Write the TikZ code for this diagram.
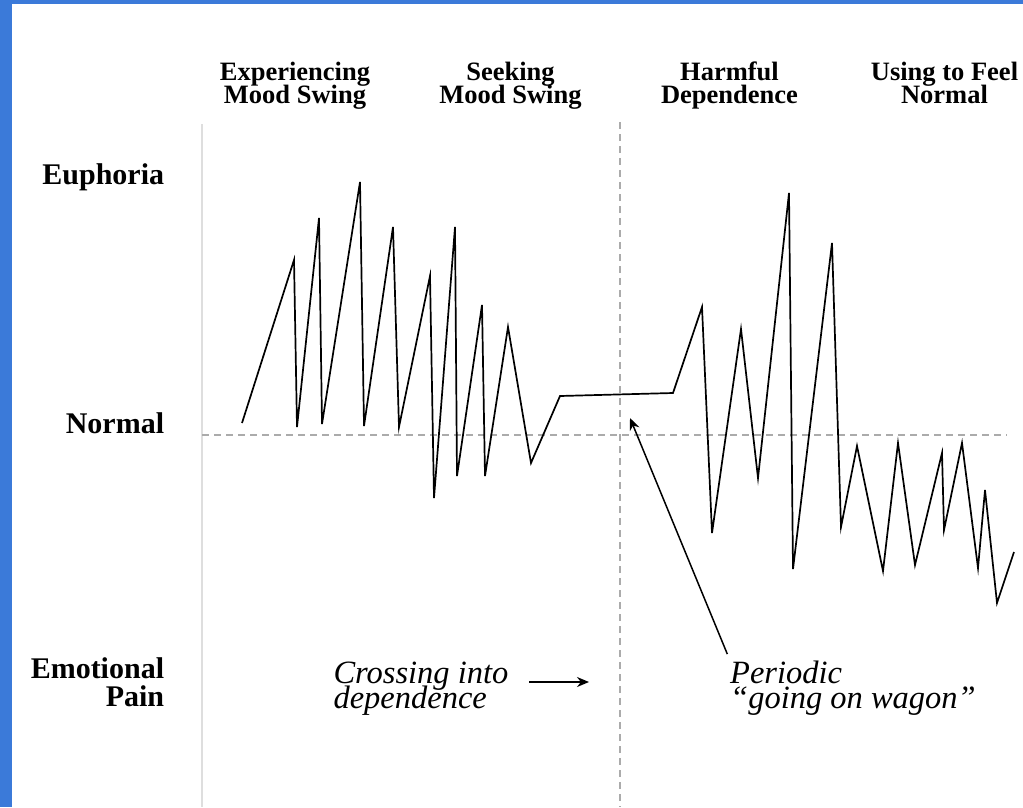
\documentclass[tikz,border=0pt]{standalone}
\usepackage{fontspec}
\setmainfont{Liberation Serif}
\usetikzlibrary{arrows.meta}
\definecolor{frameblue}{HTML}{3B7AD9}
\definecolor{guidegray}{HTML}{ABABAB}
\definecolor{axisgray}{HTML}{DEDEDE}
\newcommand{\tightskip}{\lineskiplimit=-50pt\relax}

\begin{document}
\begin{tikzpicture}[x=1pt, y=-1pt,
    phase/.style={font={\fontsize{26.5}{22.6}\selectfont\bfseries\tightskip},
                  align=center, inner sep=0pt, anchor=base},
    level/.style={font=\fontsize{30}{27.7}\selectfont\bfseries, align=right,
                  inner sep=0pt, anchor=base east},
    remark/.style={font={\fontsize{32.5}{25}\selectfont\itshape\tightskip},
                   align=left, inner sep=0pt, anchor=base west},
    guide/.style={guidegray, line width=2.2pt, dash pattern=on 7pt off 5pt},
    pointer/.style={line width=1.5pt, -{Stealth[length=12pt, width=10pt]}}]
  \useasboundingbox (0,0) rectangle (1023,807);
  \fill[frameblue] (0,0) rectangle (12,807);
  \fill[frameblue] (0,0) rectangle (1023,4);

  % axes and guides
  \draw[axisgray, line width=1.5pt] (202,124) -- (202,807);
  \draw[guide] (620,122) -- (620,807);
  \draw[guide] (202,435) -- (1007,435);

  % phases (anchored on the second line)
  \node[phase] (experiencing) at (295, 103.3) {Experiencing\\Mood Swing};
  \node[phase] (seeking) at (510.5, 103.3) {Seeking\\Mood Swing};
  \node[phase] (harmful) at (729.5, 103.3) {Harmful\\Dependence};
  \node[phase] (feelnormal) at (944.5, 103.3) {Using to Feel\\Normal};

  % levels
  \node[level] (euphoria) at (164.3, 184.3) {Euphoria};
  \node[level] (normal) at (164.3, 433.3) {Normal};
  \node[level] (pain) at (164.3, 706) {Emotional\\Pain};

  % mood curve
  \draw[line width=1.7pt, line join=miter]
    (242,423) -- (294,260) -- (297,427) -- (319,218) -- (322,424)
    -- (360,182) -- (364,426) -- (393,227) -- (399,427) -- (430,276)
    -- (434,498) -- (455,227) -- (457,476) -- (482,305) -- (485,476)
    -- (508,327) -- (531,463) -- (560,396) -- (673,393) -- (702,307)
    -- (712,533) -- (741,329) -- (758,478) -- (789,193) -- (793,569)
    -- (832,243) -- (841,527) -- (857,446) -- (883,571) -- (898,443)
    -- (915,565) -- (942,453) -- (944,530) -- (962,443) -- (978,568)
    -- (985,490) -- (997,603) -- (1014,552);

  % remarks
  \node[remark] (crossing) at (333.3, 708.3) {Crossing into\\dependence};
  \node[remark] (wagon) at (730, 708.3) {Periodic\\``going on wagon''};
  \coordinate (crossfrom) at (529,682);
  \coordinate (crossto) at (589,682);
  \coordinate (wagontip) at (630,418);
  \draw[pointer] (crossfrom) -- (crossto);
  \draw[pointer, shorten <=7pt] (wagon.north west) -- (wagontip);
\end{tikzpicture}
\end{document}
